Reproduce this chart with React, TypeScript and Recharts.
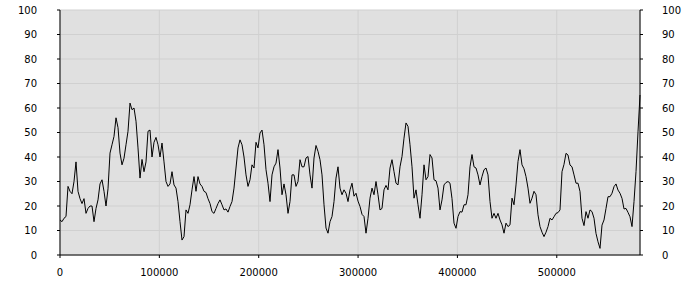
import React from "react";
import { LineChart, Line, XAxis, YAxis, CartesianGrid } from "recharts";

const STEP = 2013;

const values: number[] = [
  14.3, 13.6, 15, 15.7, 28, 26, 25, 30, 38, 26,
  23, 21, 23, 17, 19, 20, 20, 13.6, 19, 22.5,
  29, 30.7, 26, 20, 27, 41.6, 45, 48.4, 56, 52,
  41.6, 36.8, 39.5, 45, 50.5, 62, 59.3, 60, 54.6, 43.7,
  31.4, 39, 34, 38, 50.5, 51, 40, 46, 48, 45,
  40, 45.7, 38, 30, 28, 29, 34, 28.6, 27.3, 21.8,
  13.6, 6.1, 7.5, 18.4, 17, 20.5, 26.6, 32, 26, 32,
  29, 28, 26, 25.5, 23, 21, 17.7, 17, 19, 21,
  22.5, 20.5, 18.4, 18.8, 17.5, 19.8, 21.8, 27.3, 35.5, 43.7,
  47, 45, 40, 32.7, 28, 30.7, 36.8, 35.5, 46, 43.7,
  49.8, 51, 45, 34.8, 29.3, 21.8, 32.7, 36, 37.5, 43,
  35.5, 24.6, 29, 24.6, 17, 21.8, 32.7, 32.7, 28, 30,
  38.9, 36, 36, 39.6, 40.2, 32.7, 27.3, 39.6, 44.7, 42.3,
  38.9, 32.7, 20.5, 11, 8.9, 13.6, 15.7, 21.8, 31.4, 36,
  27.3, 24.6, 26.6, 25.2, 21.8, 26.6, 29.3, 24, 25.2, 22,
  19.8, 16.6, 15.7, 8.9, 15, 23.2, 27.3, 24.6, 30, 24.6,
  18.4, 19, 26.6, 28.4, 26.6, 35.5, 38.9, 34, 29.3, 28.6,
  36, 40.2, 47.7, 53.9, 52.5, 45, 36, 23.2, 26.6, 20.5,
  15, 24.6, 36.8, 30.7, 32, 41, 39.6, 30.7, 30.3, 27.3,
  18.4, 22.5, 28.6, 29.6, 30, 29.3, 23, 13, 10.9, 15.7,
  17.7, 17.5, 20.5, 20.5, 24.6, 36, 41, 36, 35.5, 32.7,
  28.6, 32, 34.8, 35.5, 32.7, 21.8, 15, 17, 15, 17,
  14.3, 12.3, 8.9, 13, 11.6, 12.3, 23.2, 20.5, 28.6, 38.2,
  43, 36.8, 35.2, 32, 27.3, 21.1, 23.2, 26, 24.6, 16.4,
  11.6, 9.3, 7.5, 9.3, 11.6, 15, 14.3, 15.6, 17, 17.3,
  18.4, 34, 37, 41.5, 40.8, 36.7, 36, 32.7, 29.3, 29.3,
  25.9, 15, 12, 17.7, 15, 18.4, 17.7, 15, 8.8, 5.4,
  2.7, 12.2, 14.3, 19, 23.8, 23.8, 25.2, 27.9, 29, 26.5,
  25.2, 23.1, 18.8, 19, 17.4, 15.6, 11.6, 21.8, 34, 50.3,
  65.3,
];

const xTicks = [0, 100000, 200000, 300000, 400000, 500000];
const yTicks = [0, 10, 20, 30, 40, 50, 60, 70, 80, 90, 100];

const data = values.map((v, i) => ({ x: i * STEP, y: v }));

const tickStyle = { fontFamily: "DejaVu Sans", fontSize: 10, fill: "#000" };

export default function App() {
  return (
    <div style={{ position: "absolute", left: 0, top: 0, width: 700, height: 300, background: "#fff" }}>
      <LineChart width={700} height={300} data={data} margin={{ top: 10, right: 0, bottom: 0, left: 0 }}>
        <CartesianGrid xAxisId="bottom" yAxisId="left" fill="#e0e0e0" stroke="#d0d0d0" />
        <XAxis
          xAxisId="bottom"
          dataKey="x"
          type="number"
          domain={[0, "dataMax"]}
          ticks={xTicks}
          height={45}
          tickSize={3}
          tickMargin={11}
          stroke="#000"
          tick={tickStyle}
          interval={0}
        />
        <XAxis
          xAxisId="top"
          dataKey="x"
          type="number"
          orientation="top"
          domain={[0, "dataMax"]}
          height={0}
          tick={false}
          tickLine={false}
          stroke="#000"
        />
        <YAxis
          yAxisId="left"
          domain={[0, 100]}
          ticks={yTicks}
          width={60}
          tickSize={3}
          tickMargin={20}
          stroke="#000"
          tick={tickStyle}
          interval={0}
        />
        <YAxis
          yAxisId="right"
          orientation="right"
          domain={[0, 100]}
          ticks={yTicks}
          width={60}
          tickSize={3}
          tickMargin={19}
          stroke="#000"
          tick={tickStyle}
          interval={0}
        />
        <Line
          xAxisId="top"
          yAxisId="right"
          dataKey="y"
          type="linear"
          stroke="none"
          strokeWidth={0}
          dot={false}
          activeDot={false}
          isAnimationActive={false}
        />
        <Line
          xAxisId="bottom"
          yAxisId="left"
          dataKey="y"
          type="linear"
          stroke="#000"
          strokeWidth={1}
          dot={false}
          isAnimationActive={false}
        />
      </LineChart>
    </div>
  );
}
